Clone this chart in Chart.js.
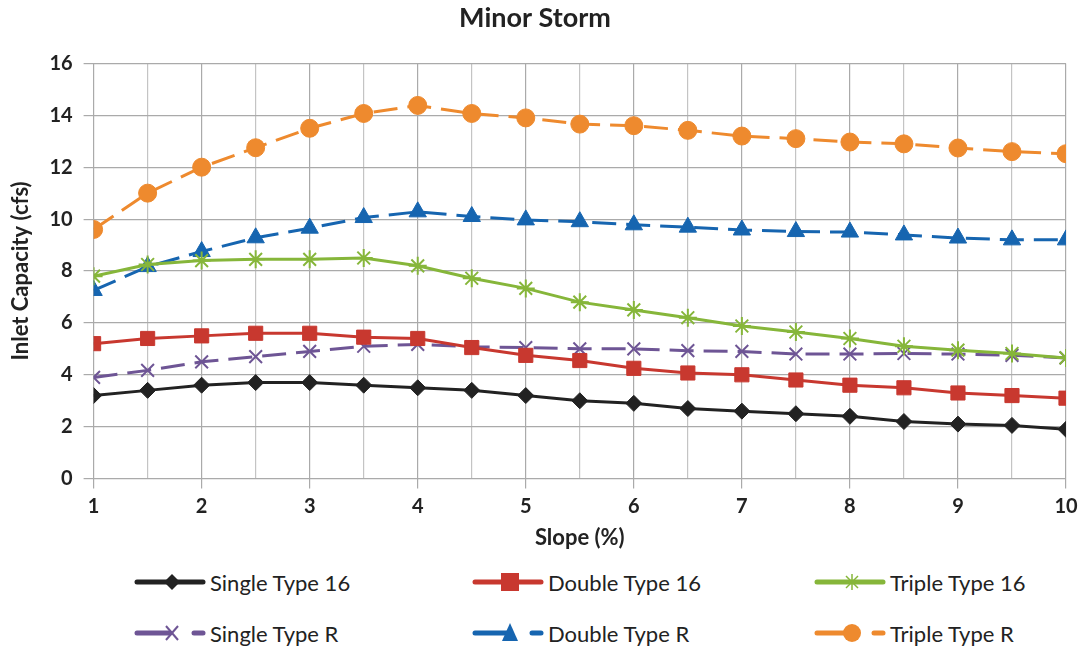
<!DOCTYPE html>
<html>
<head>
<meta charset="utf-8">
<script src="https://cdn.jsdelivr.net/npm/chart.js@4.4.1/dist/chart.umd.min.js"></script>
<style>
  body { margin: 0; background: #fff; }
  .wrap { position: relative; width: 1084px; height: 648px; font-family: Lato, "Open Sans", sans-serif; }
  .plot { position: absolute; left: 0; top: 0; width: 1084px; height: 560px; }
  .legend { position: absolute; left: 0; top: 562px; width: 1084px; height: 86px; }
  .item { position: absolute; display: flex; align-items: center; font-size: 22px; color: #222; height: 30px; }
  .item svg { margin-right: 4px; }
</style>
</head>
<body>
<div class="wrap">
  <div class="plot"><canvas id="chart"></canvas></div>
  <div class="legend" id="legend"></div>
</div>
<script>
// slope (%) values along the x axis
const slopes = [1, 1.5, 2, 2.5, 3, 3.5, 4, 4.5, 5, 5.5, 6, 6.5, 7, 7.5, 8, 8.5, 9, 9.5, 10];

// inlet capacity (cfs)
const singleType16 = [3.2, 3.4, 3.6, 3.7, 3.7, 3.6, 3.5, 3.4, 3.2, 3.0, 2.9, 2.7, 2.6, 2.5, 2.4, 2.2, 2.1, 2.05, 1.9];
const doubleType16 = [5.2, 5.4, 5.5, 5.6, 5.6, 5.45, 5.4, 5.05, 4.75, 4.55, 4.25, 4.07, 4.0, 3.8, 3.6, 3.5, 3.3, 3.2, 3.1];
const tripleType16 = [7.8, 8.25, 8.4, 8.45, 8.45, 8.5, 8.2, 7.72, 7.33, 6.8, 6.5, 6.2, 5.88, 5.65, 5.4, 5.1, 4.95, 4.82, 4.65];
const singleTypeR = [3.9, 4.17, 4.5, 4.7, 4.9, 5.1, 5.17, 5.08, 5.05, 5.0, 5.0, 4.93, 4.9, 4.8, 4.8, 4.82, 4.8, 4.75, 4.65];
const doubleTypeR = [7.25, 8.17, 8.75, 9.28, 9.65, 10.06, 10.28, 10.1, 9.97, 9.9, 9.78, 9.69, 9.58, 9.52, 9.5, 9.39, 9.27, 9.2, 9.2];
const tripleTypeR = [9.6, 11.0, 12.0, 12.75, 13.5, 14.07, 14.38, 14.07, 13.9, 13.66, 13.6, 13.42, 13.2, 13.1, 12.97, 12.9, 12.74, 12.6, 12.52];

const yTicks = [0, 2, 4, 6, 8, 10, 12, 14, 16];

const series = [
  { label: "Single Type 16", data: singleType16, color: "#222222", style: "rectRot", radius: 8, dash: [] },
  { label: "Double Type 16", data: doubleType16, color: "#c8382f", style: "rect", radius: 10, dash: [] },
  { label: "Triple Type 16", data: tripleType16, color: "#86b63a", style: "star", radius: 9, dash: [] },
  { label: "Single Type R", data: singleTypeR, color: "#6e5595", style: "crossRot", radius: 9, dash: [24, 10] },
  { label: "Double Type R", data: doubleTypeR, color: "#1665b0", style: "triangle", radius: 10, dash: [24, 10] },
  { label: "Triple Type R", data: tripleTypeR, color: "#ee8a2e", style: "circle", radius: 9, dash: [24, 10] },
];

const ctx = document.getElementById("chart").getContext("2d");

const datasets = series.map((s) => ({
  label: s.label,
  data: s.data.map((v, i) => ({ x: slopes[i], y: v })),
  borderColor: s.color,
  backgroundColor: s.color,
  borderWidth: 3,
  borderDash: s.dash,
  pointStyle: s.style,
  pointRadius: s.radius,
  pointBorderWidth: s.style === "star" || s.style === "crossRot" ? 2 : 1,
  pointBorderColor: s.color,
  pointBackgroundColor: s.color,
  tension: 0,
}));

const tickFont = { family: "Lato", size: 20, weight: "bold" };
const titleFont = { family: "Lato", size: 22, weight: "bold" };

new Chart(ctx, {
  type: "line",
  data: { datasets },
  options: {
    responsive: true,
    maintainAspectRatio: false,
    animation: false,
    layout: { padding: { left: 4, right: 18, top: 0, bottom: 5 } },
    plugins: {
      legend: { display: false },
      tooltip: { enabled: false },
      title: {
        display: true,
        text: "Minor Storm",
        color: "#222",
        font: { family: "Lato", size: 27, weight: "bold" },
        padding: { top: 2, bottom: 29 },
      },
    },
    scales: {
      x: {
        type: "linear",
        min: 1,
        max: 10,
        ticks: {
          stepSize: 0.5,
          autoSkip: false,
          maxRotation: 0,
          color: "#222",
          font: tickFont,
          padding: 6,
          callback(value) {
            return Number.isInteger(value) ? String(value) : "";
          },
        },
        grid: {
          color: (c) => (c.tick && Number.isInteger(c.tick.value) ? "#aaaaaa" : "#c4c4c4"),
          lineWidth: 1.2,
          tickLength: 10,
          tickColor: (c) => (Number.isInteger(c.tick.value) ? "#aaaaaa" : "rgba(0,0,0,0)"),
        },
        border: { color: "#aaaaaa" },
        title: {
          display: true,
          text: "Slope (%)",
          color: "#222",
          font: titleFont,
          padding: { top: 0, bottom: 4 },
        },
      },
      y: {
        min: 0,
        max: 16,
        ticks: {
          stepSize: 1,
          color: "#222",
          font: tickFont,
          padding: 11,
          callback(value) {
            return yTicks.includes(value) ? String(value) : "";
          },
        },
        grid: {
          color: (c) => (c.tick && c.tick.value % 2 === 0 ? "#aaaaaa" : "#cfcfcf"),
          lineWidth: 1.2,
          tickLength: 10,
          tickColor: (c) => (c.tick.value % 2 === 0 ? "#aaaaaa" : "rgba(0,0,0,0)"),
        },
        border: {
          color: "#aaaaaa",
          dash: (c) => (c.tick && c.tick.value % 2 !== 0 ? [3, 3] : []),
        },
        title: {
          display: true,
          text: "Inlet Capacity (cfs)",
          color: "#222",
          font: titleFont,
          padding: { top: 4, bottom: 4 },
        },
      },
    },
  },
});

// ====== html legend, 3 columns x 2 rows ======
function markerSvg(s) {
  const c = s.color;
  const cx = 38, cy = 10;
  let m = "";
  if (s.style === "rectRot") m = `<polygon points="${cx},${cy - 8} ${cx + 8},${cy} ${cx},${cy + 8} ${cx - 8},${cy}" fill="${c}"/>`;
  if (s.style === "rect") m = `<rect x="${cx - 9}" y="${cy - 9}" width="18" height="18" fill="${c}"/>`;
  if (s.style === "star") m = `<g stroke="${c}" stroke-width="1.5"><line x1="${cx - 6}" y1="${cy - 6}" x2="${cx + 6}" y2="${cy + 6}"/><line x1="${cx + 6}" y1="${cy - 6}" x2="${cx - 6}" y2="${cy + 6}"/><line x1="${cx}" y1="${cy - 8}" x2="${cx}" y2="${cy + 8}"/></g>`;
  if (s.style === "crossRot") m = `<g stroke="${c}" stroke-width="2"><line x1="${cx - 6}" y1="${cy - 7}" x2="${cx + 6}" y2="${cy + 7}"/><line x1="${cx + 6}" y1="${cy - 7}" x2="${cx - 6}" y2="${cy + 7}"/></g>`;
  if (s.style === "triangle") m = `<polygon points="${cx},${cy - 10} ${cx + 8},${cy + 8} ${cx - 8},${cy + 8}" fill="${c}"/>`;
  if (s.style === "circle") m = `<circle cx="${cx}" cy="${cy}" r="9" fill="${c}"/>`;
  const line = s.dash.length
    ? `<line x1="3" y1="${cy}" x2="36" y2="${cy}" stroke="${c}" stroke-width="5" stroke-linecap="round"/><line x1="60" y1="${cy}" x2="69" y2="${cy}" stroke="${c}" stroke-width="5" stroke-linecap="round"/>`
    : `<line x1="3" y1="${cy}" x2="69" y2="${cy}" stroke="${c}" stroke-width="5" stroke-linecap="round"/>`;
  return `<svg width="72" height="20" viewBox="0 0 72 20">${line}${m}</svg>`;
}

const legendCols = [134, 472, 814];
const legendRows = [5, 56];
const legendEl = document.getElementById("legend");
series.forEach((s, i) => {
  const item = document.createElement("div");
  item.className = "item";
  item.style.left = legendCols[i % 3] + "px";
  item.style.top = legendRows[Math.floor(i / 3)] + "px";
  item.innerHTML = markerSvg(s) + `<span>${s.label}</span>`;
  legendEl.appendChild(item);
});
</script>
</body>
</html>
